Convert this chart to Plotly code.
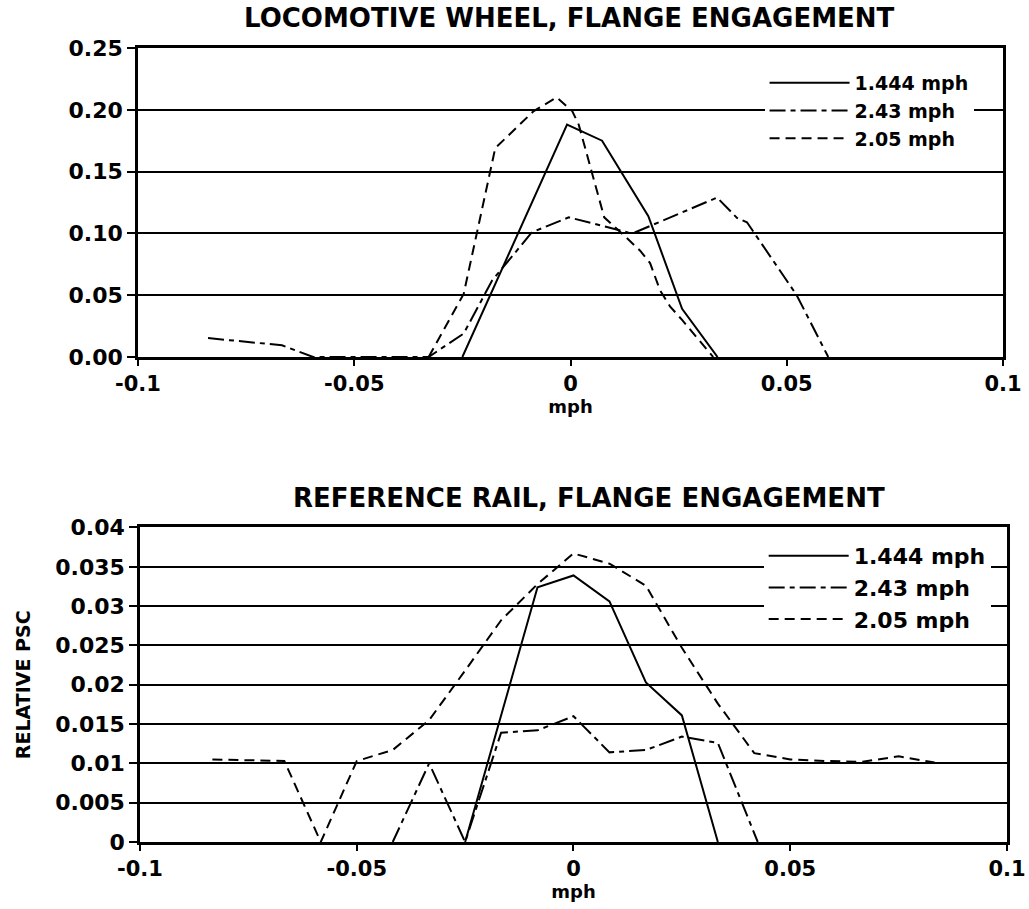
import plotly.graph_objects as go

# ---------------- data ----------------
speeds = ["1.444 mph", "2.43 mph", "2.05 mph"]

# Top: locomotive wheel
loco_1444_x = [-0.025, -0.0008, 0.0073, 0.018, 0.0258, 0.034]
loco_1444_y = [0.0, 0.188, 0.175, 0.114, 0.039, 0.0]

loco_243_x = [-0.0838, -0.0667, -0.0595, -0.0328, -0.0247, -0.0181, -0.0089, -0.0004,
              0.012, 0.0142, 0.0339, 0.0385, 0.0408, 0.0523, 0.0596]
loco_243_y = [0.0153, 0.0095, 0.0, 0.0, 0.019, 0.062, 0.101, 0.113,
              0.102, 0.0998, 0.129, 0.1125, 0.109, 0.05, 0.0]

loco_205_x = [-0.0328, -0.0247, -0.0174, -0.0085, -0.0032, 0.0004, 0.0019, 0.0078,
              0.0122, 0.0161, 0.0184, 0.0207, 0.023, 0.0258, 0.033]
loco_205_y = [0.0, 0.051, 0.169, 0.199, 0.210, 0.199, 0.188, 0.113,
              0.099, 0.086, 0.076, 0.054, 0.041, 0.030, 0.0]

# Bottom: reference rail
rail_1444_x = [-0.025, -0.0083, 0.0, 0.0083, 0.0167, 0.025, 0.0333]
rail_1444_y = [0.0, 0.0324, 0.0339, 0.0306, 0.0203, 0.0161, 0.0]

rail_243_x = [-0.0417, -0.0333, -0.025, -0.0167, -0.0083, 0.0, 0.0083, 0.0167, 0.025, 0.0333, 0.0425]
rail_243_y = [0.0, 0.0100, 0.0, 0.0139, 0.0142, 0.0160, 0.0114, 0.0117, 0.0134, 0.0126, 0.0]

rail_205_x = [-0.0833, -0.0667, -0.0583, -0.05, -0.0417, -0.0333, -0.025, -0.0167, -0.0083, 0.0,
              0.0083, 0.0167, 0.025, 0.0333, 0.0417, 0.05, 0.0583, 0.0667, 0.075, 0.0833]
rail_205_y = [0.0105, 0.0103, 0.0, 0.0103, 0.0117, 0.0155, 0.0218, 0.0282, 0.0328, 0.0367,
              0.0354, 0.0326, 0.0247, 0.0176, 0.0113, 0.0105, 0.0103, 0.0102, 0.0109, 0.0101]

x_tickvals = [-0.1, -0.05, 0, 0.05, 0.1]
x_ticktext = ["-0.1", "-0.05", "0", "0.05", "0.1"]
top_title = "LOCOMOTIVE WHEEL, FLANGE ENGAGEMENT"
bottom_title = "REFERENCE RAIL, FLANGE ENGAGEMENT"

# ---------------- styles ----------------
FONT = "DejaVu Sans"
dashes = ["solid", "16px,5px,5px,5px", "10px,6px"]


def f(size):
    return dict(family=FONT, size=size, color="black", weight="bold")


fig = go.Figure()

top_sets = [(loco_1444_x, loco_1444_y), (loco_243_x, loco_243_y), (loco_205_x, loco_205_y)]
bot_sets = [(rail_1444_x, rail_1444_y), (rail_243_x, rail_243_y), (rail_205_x, rail_205_y)]

for name, (xs, ys), dash in zip(speeds, top_sets, dashes):
    fig.add_trace(go.Scatter(x=xs, y=ys, mode="lines", name=name,
                             line=dict(color="black", width=2, dash=dash),
                             xaxis="x", yaxis="y", legend="legend"))
for name, (xs, ys), dash in zip(speeds, bot_sets, dashes):
    fig.add_trace(go.Scatter(x=xs, y=ys, mode="lines", name=name,
                             line=dict(color="black", width=2, dash=dash),
                             xaxis="x2", yaxis="y2", legend="legend2"))

axis_common = dict(showline=True, linecolor="black", linewidth=2.5, mirror=True,
                   ticks="outside", ticklen=8, tickwidth=2, tickcolor="black",
                   tickfont=f(22), automargin=False)

xcommon = dict(axis_common, range=[-0.1, 0.1], tickvals=x_tickvals, ticktext=x_ticktext,
               showgrid=False, zeroline=False, ticklen=6, ticklabeloverflow="allow",
               tickfont=f(21),
               title=dict(text="mph", font=f(18), standoff=0))

fig.update_layout(
    width=1029, height=909,
    paper_bgcolor="white", plot_bgcolor="white",
    margin=dict(l=138, r=22, t=48, b=67, autoexpand=False),
    font=dict(family=FONT, color="black"),
    xaxis=dict(xcommon, domain=[0, 0.9954], anchor="y"),
    yaxis=dict(axis_common, domain=[0.6108, 1], anchor="x", range=[0, 0.25], dtick=0.05,
               tickformat=".2f", showgrid=True, gridcolor="black", gridwidth=1.5, zeroline=False),
    xaxis2=dict(xcommon, domain=[0.0023, 1], anchor="y2"),
    yaxis2=dict(axis_common, domain=[0, 0.3961], anchor="x2", range=[0, 0.04], dtick=0.005,
                showgrid=True, gridcolor="black", gridwidth=1.5, zeroline=False,
                title=dict(text="RELATIVE PSC", font=f(19), standoff=20)),
    legend=dict(x=0.721, y=0.980, xanchor="left", yanchor="top", bgcolor="white",
                font=f(19), itemwidth=80, tracegroupgap=0),
    legend2=dict(x=0.720, y=0.3866, xanchor="left", yanchor="top", bgcolor="white",
                 font=f(22), itemwidth=80, tracegroupgap=0),
    annotations=[
        dict(text=top_title, xref="paper", yref="paper", x=0.497, y=1.0378,
             xanchor="center", yanchor="middle", showarrow=False, font=f(26)),
        dict(text=bottom_title, xref="paper", yref="paper", x=0.519, y=0.433,
             xanchor="center", yanchor="middle", showarrow=False, font=f(26)),
    ],
)

fig.write_html("out.html", config={"displayModeBar": False},
               post_script="document.body.style.margin='0px';")
